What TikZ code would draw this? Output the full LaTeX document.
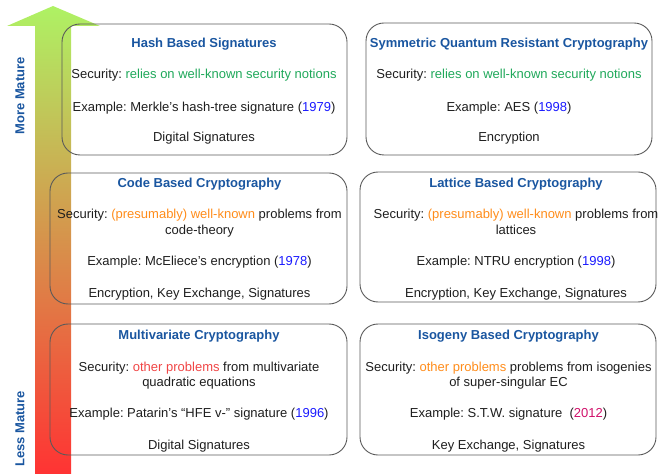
\documentclass[tikz,border=0pt]{standalone}
\usepackage{fontspec}
\setmainfont{Liberation Sans}
\frenchspacing
\definecolor{titleblue}{HTML}{1A56A0}
\definecolor{secgreen}{HTML}{1FA85A}
\definecolor{secorange}{HTML}{FF8C1A}
\definecolor{secred}{HTML}{F04545}
\definecolor{yearblue}{HTML}{1A1AFF}
\definecolor{yearpink}{HTML}{D0106A}
\definecolor{boxline}{HTML}{5A5A5A}
\definecolor{arrowtop}{HTML}{AEF264}
\definecolor{arrowbot}{HTML}{FF3333}
\definecolor{bodytext}{HTML}{1E1E1E}
\begin{document}
\begin{tikzpicture}[x=1bp,y=-1bp,
  catbox/.style={draw=boxline, line width=0.9bp, rounded corners=18bp, inner sep=0pt},
  cattitle/.style={font=\fontsize{13bp}{15bp}\selectfont\bfseries, text=titleblue, anchor=base, inner sep=0pt},
  catline/.style={font=\fontsize{13bp}{15bp}\selectfont, text=bodytext, anchor=base, inner sep=0pt},
  maturity/.style={font=\fontsize{13bp}{15bp}\selectfont\bfseries, text=titleblue, rotate=90, inner sep=0pt}]
\useasboundingbox (0,0) rectangle (658,474);

% maturity arrow with green-to-red gradient
\shade[top color=arrowtop, bottom color=arrowbot]
  (35,474) -- (35,26) -- (7,26) -- (53,6) -- (100,26) -- (71,26) -- (71,474) -- cycle;
\node[maturity] (more) at (20,96) {More Mature};
\node[maturity] (less) at (20,429) {Less Mature};

% category frames
\node[catbox, minimum width=285bp, minimum height=131bp] (hash) at (204.5,89.5) {};
\node[catbox, minimum width=286bp, minimum height=132bp] (sym) at (509,89) {};
\node[catbox, minimum width=297bp, minimum height=131bp] (code) at (198.5,238.5) {};
\node[catbox, minimum width=296bp, minimum height=130bp] (lat) at (508,237) {};
\node[catbox, minimum width=297bp, minimum height=131bp] (multi) at (198.5,389.5) {};
\node[catbox, minimum width=296bp, minimum height=131bp] (iso) at (508,389.5) {};

% hash based signatures
\node[cattitle] (hashT) at (204,47.8) {Hash Based Signatures};
\node[catline] (hashS) at (204,78.5) {Security: \textcolor{secgreen}{relies on well-known security notions}};
\node[catline] (hashE) at (204,111.5) {Example: Merkle’s hash-tree signature (\textcolor{yearblue}{1979})};
\node[catline] (hashU) at (204,141.2) {Digital Signatures};

% symmetric quantum resistant cryptography
\node[cattitle] (symT) at (509,47.8) {Symmetric Quantum Resistant Cryptography};
\node[catline] (symS) at (509,78.5) {Security: \textcolor{secgreen}{relies on well-known security notions}};
\node[catline] (symE) at (509,111.5) {Example: AES (\textcolor{yearblue}{1998})};
\node[catline] (symU) at (509,141.2) {Encryption};

% code based cryptography
\node[cattitle] (codeT) at (199.5,187.8) {Code Based Cryptography};
\node[catline] (codeS) at (199.5,218.8) {Security: \textcolor{secorange}{(presumably) well-known} problems from};
\node[catline] (codeS2) at (199.5,234.5) {code-theory};
\node[catline] (codeE) at (199.5,265.2) {Example: McEliece’s encryption (\textcolor{yearblue}{1978})};
\node[catline] (codeU) at (199.5,297.2) {Encryption, Key Exchange, Signatures};

% lattice based cryptography
\node[cattitle] (latT) at (516,187.8) {Lattice Based Cryptography};
\node[catline] (latS) at (516,218.8) {Security: \textcolor{secorange}{(presumably) well-known} problems from};
\node[catline] (latS2) at (516,234.5) {lattices};
\node[catline] (latE) at (516,265.2) {Example: NTRU encryption (\textcolor{yearblue}{1998})};
\node[catline] (latU) at (516,297.2) {Encryption, Key Exchange, Signatures};

% multivariate cryptography
\node[cattitle] (multiT) at (199,339.5) {Multivariate Cryptography};
\node[catline] (multiS) at (199,371.2) {Security: \textcolor{secred}{other problems} from multivariate};
\node[catline] (multiS2) at (199,386.5) {quadratic equations};
\node[catline] (multiE) at (199,417.5) {Example: Patarin’s “HFE v-” signature (\textcolor{yearblue}{1996})};
\node[catline] (multiU) at (199,449.5) {Digital Signatures};

% isogeny based cryptography
\node[cattitle] (isoT) at (508.5,339.5) {Isogeny Based Cryptography};
\node[catline] (isoS) at (508.5,371.2) {Security: \textcolor{secorange}{other problems} problems from isogenies};
\node[catline] (isoS2) at (508.5,386.5) {of super-singular EC};
\node[catline] (isoE) at (508.5,417.5) {Example: S.T.W. signature\ \ (\textcolor{yearpink}{2012})};
\node[catline] (isoU) at (508.5,449.5) {Key Exchange, Signatures};
\end{tikzpicture}
\end{document}
